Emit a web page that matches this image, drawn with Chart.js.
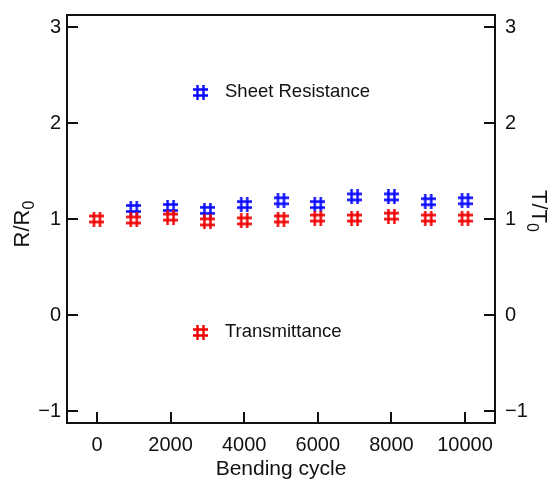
<!DOCTYPE html>
<html>
<head>
<meta charset="utf-8">
<script src="https://cdn.jsdelivr.net/npm/chart.js@4/dist/chart.umd.min.js"></script>
<style>
  body { margin: 0; background: #fff; }
  #wrap { width: 556px; height: 486px; }
</style>
</head>
<body>
<div id="wrap"><canvas id="grafico" width="556" height="486"></canvas></div>
<script>
// Datos del gráfico (en 0 ciclos solo se ve la marca roja)
const ciclos = [0, 1000, 2000, 3000, 4000, 5000, 6000, 7000, 8000, 9000, 10000];
const resistencia = [null, 1.11, 1.12, 1.09, 1.15, 1.19, 1.15, 1.23, 1.23, 1.18, 1.19];
const transmitancia = [1.0, 0.99, 1.02, 0.97, 0.98, 1.0, 1.01, 1.01, 1.03, 1.01, 1.01];
const ticksX = [0, 2000, 4000, 6000, 8000, 10000];
const ticksY = [-1, 0, 1, 2, 3];

const FUENTE = '"Liberation Sans", Arial, sans-serif';

// Marcador "#" dibujado en un canvas pequeño
function crearAlmohadilla(color) {
  const c = document.createElement("canvas");
  c.width = 15;
  c.height = 15;
  const g = c.getContext("2d");
  g.strokeStyle = color;
  g.lineWidth = 2.4;
  g.beginPath();
  g.moveTo(4.5, 0); g.lineTo(4.5, 15);
  g.moveTo(10.5, 0); g.lineTo(10.5, 15);
  g.moveTo(0, 4.5); g.lineTo(15, 4.5);
  g.moveTo(0, 10.5); g.lineTo(15, 10.5);
  g.stroke();
  return c;
}

const marcaRoja = crearAlmohadilla("#f00000");
const marcaAzul = crearAlmohadilla("#0a0aff");

// Marco, ticks hacia dentro, leyendas y títulos con subíndice
const extras = {
  id: "extras",
  afterDraw(chart) {
    const ctx = chart.ctx;
    const a = chart.chartArea;
    const sx = chart.scales.x;
    const sy = chart.scales.y;
    ctx.save();
    ctx.strokeStyle = "#111";
    ctx.lineWidth = 2;
    ctx.strokeRect(a.left, a.top, a.right - a.left, a.bottom - a.top);

    ctx.beginPath();
    ticksX.forEach((v) => {
      const px = Math.round(sx.getPixelForValue(v));
      ctx.moveTo(px, a.bottom);
      ctx.lineTo(px, a.bottom - 11);
    });
    ticksY.forEach((v) => {
      const py = Math.round(sy.getPixelForValue(v));
      ctx.moveTo(a.left, py);
      ctx.lineTo(a.left + 11, py);
      ctx.moveTo(a.right, py);
      ctx.lineTo(a.right - 11, py);
    });
    ctx.stroke();

    // Leyendas dentro del gráfico
    ctx.fillStyle = "#111";
    ctx.font = "18.5px " + FUENTE;
    ctx.textBaseline = "middle";
    ctx.textAlign = "left";
    ctx.drawImage(marcaAzul, a.left + 126, a.top + 70);
    ctx.fillText("Sheet Resistance", a.left + 158, a.top + 77);
    ctx.drawImage(marcaRoja, a.left + 126, a.top + 310);
    ctx.fillText("Transmittance", a.left + 158, a.top + 317);

    // Título eje X
    ctx.font = "21px " + FUENTE;
    ctx.textAlign = "center";
    ctx.fillText("Bending cycle", (a.left + a.right) / 2, 469);

    // Títulos de ejes Y con subíndice
    dibujarTitulo(ctx, "R/R", "0", 23, 224, -Math.PI / 2);
    dibujarTitulo(ctx, "T/T", "0", 538, 211, Math.PI / 2);
    ctx.restore();
  },
};

function dibujarTitulo(ctx, texto, sub, x, y, angulo) {
  ctx.save();
  ctx.translate(x, y);
  ctx.rotate(angulo);
  ctx.textAlign = "left";
  ctx.textBaseline = "middle";
  ctx.font = "22px " + FUENTE;
  const w1 = ctx.measureText(texto).width;
  ctx.font = "16px " + FUENTE;
  const w2 = ctx.measureText(sub).width;
  const inicio = -(w1 + w2) / 2;
  ctx.font = "22px " + FUENTE;
  ctx.fillText(texto, inicio, 0);
  ctx.font = "16px " + FUENTE;
  ctx.fillText(sub, inicio + w1, 7);
  ctx.restore();
}

function ejeY(posicion, ancho, relleno) {
  return {
    type: "linear",
    position: posicion,
    min: -1.125,
    max: 3.125,
    grid: { display: false, drawTicks: false },
    border: { display: false },
    afterBuildTicks: (s) => { s.ticks = ticksY.map((v) => ({ value: v })); },
    afterFit: (s) => {
      s.width = ancho;
      s.paddingTop = 0;
      s.paddingBottom = 0;
    },
    ticks: {
      color: "#111",
      padding: relleno,
      font: { family: FUENTE, size: 20 },
      callback: (v) => (v < 0 ? "\u2212" + Math.abs(v) : String(v)),
    },
  };
}

new Chart(document.getElementById("grafico"), {
  type: "scatter",
  data: {
    datasets: [
      {
        label: "Transmittance",
        data: ciclos.map((c, i) => ({ x: c, y: transmitancia[i] })),
        pointStyle: marcaRoja,
      },
      {
        label: "Sheet Resistance",
        data: ciclos.map((c, i) => ({ x: c, y: resistencia[i] })),
        pointStyle: marcaAzul,
      },
    ],
  },
  options: {
    responsive: false,
    animation: false,
    events: [],
    layout: { padding: { top: 15, left: 0, right: 0, bottom: 0 } },
    plugins: { legend: { display: false }, tooltip: { enabled: false } },
    scales: {
      x: {
        type: "linear",
        min: -815,
        max: 10815,
        grid: { display: false, drawTicks: false },
        border: { display: false },
        afterBuildTicks: (s) => { s.ticks = ticksX.map((v) => ({ value: v })); },
        afterFit: (s) => {
          s.height = 63;
          s.paddingLeft = 0;
          s.paddingRight = 0;
        },
        ticks: {
          color: "#111",
          padding: 10,
          font: { family: FUENTE, size: 20 },
          maxRotation: 0,
          callback: (v) => String(v),
        },
      },
      y: ejeY("left", 67, 6),
      y2: ejeY("right", 61, 10),
    },
  },
  plugins: [extras],
});
</script>
</body>
</html>
